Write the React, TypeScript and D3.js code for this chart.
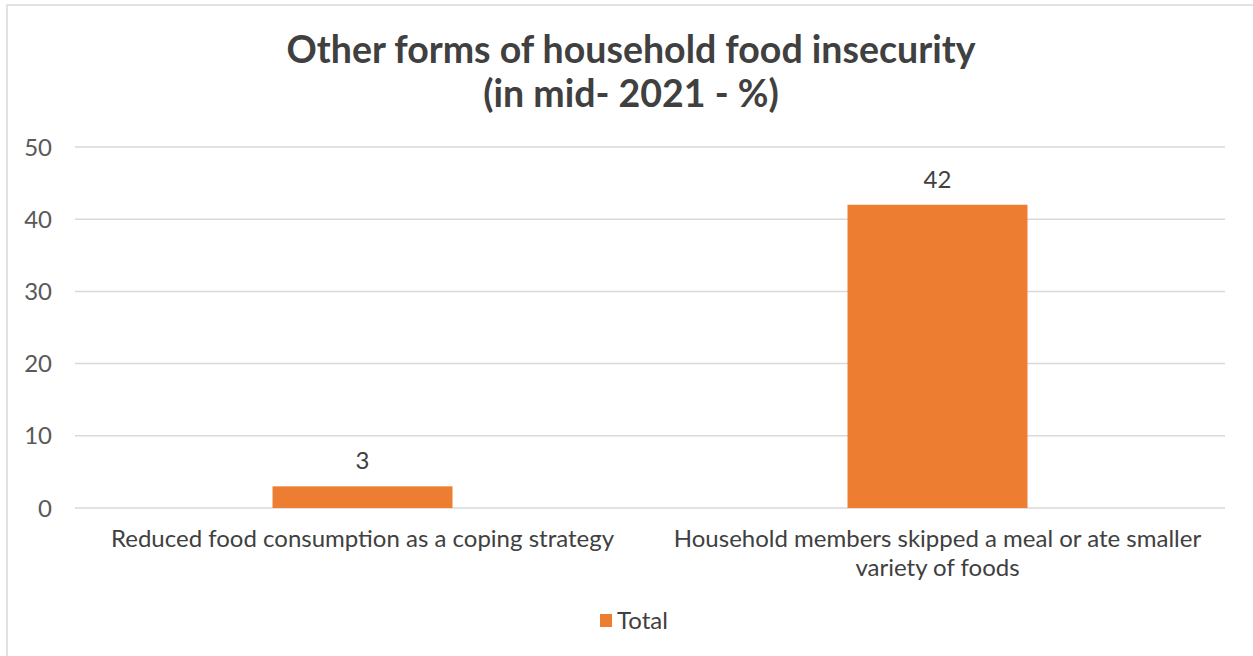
import React from "react";
import * as d3 from "d3";

const categories: string[][] = [
  ["Reduced food consumption as a coping strategy"],
  ["Household members skipped a meal or ate smaller", "variety of foods"],
];
const totals: number[] = [3, 42];
const yTicks: number[] = [0, 10, 20, 30, 40, 50];
const titleLines: string[] = ["Other forms of household food insecurity", "(in mid- 2021 - %)"];
const seriesName = "Total";

const W = 1253;
const H = 656;
const FONT = "Lato, 'Open Sans', sans-serif";
const BAR = "#ED7D31";

export default function App() {
  const left = 75, right = 1225, top = 147, bottom = 508;
  const x = d3
    .scaleBand<number>()
    .domain(totals.map((_, i) => i))
    .range([left, right])
    .paddingInner(0.687)
    .paddingOuter(0.3435);
  const y = d3.scaleLinear().domain([0, 50]).range([bottom, top]);
  const step = (right - left) / categories.length;

  return (
    <svg width={W} height={H} style={{ position: "absolute", left: 0, top: 0 }}>
      <rect x={0} y={0} width={W} height={H} fill="#fff" />
      <rect x={7} y={5} width={W + 10} height={H + 10} fill="#fff" stroke="#d9d9d9" strokeWidth={1.5} />
      <g fontFamily={FONT} fontWeight={700} fontSize={37.5} fill="#404040" textAnchor="middle">
        {titleLines.map((t, i) => (
          <text key={i} x={631} y={63 + i * 44}>
            {t}
          </text>
        ))}
      </g>
      {yTicks.map((t) => (
        <g key={t}>
          <line x1={left} x2={right} y1={y(t)} y2={y(t)} stroke="#d9d9d9" strokeWidth={1.5} />
          <text x={52} y={y(t) + 8.5} textAnchor="end" fontFamily={FONT} fontSize={24} fill="#595959">
            {t}
          </text>
        </g>
      ))}
      {totals.map((v, i) => (
        <g key={i}>
          <rect x={x(i)} y={y(v)} width={x.bandwidth()} height={y(0) - y(v)} fill={BAR} />
          <text
            x={(x(i) as number) + x.bandwidth() / 2}
            y={y(v) - 17}
            textAnchor="middle"
            fontFamily={FONT}
            fontSize={24}
            fill="#404040"
          >
            {v}
          </text>
        </g>
      ))}
      {categories.map((lines, i) => (
        <text key={i} textAnchor="middle" fontFamily={FONT} fontSize={24} fill="#404040">
          {lines.map((l, j) => (
            <tspan key={j} x={left + step * (i + 0.5)} y={547 + j * 29}>
              {l}
            </tspan>
          ))}
        </text>
      ))}
      <g>
        <rect x={600} y={614} width={12} height={13} fill={BAR} />
        <text x={617} y={629} fontFamily={FONT} fontSize={24} fill="#404040">
          {seriesName}
        </text>
      </g>
    </svg>
  );
}
